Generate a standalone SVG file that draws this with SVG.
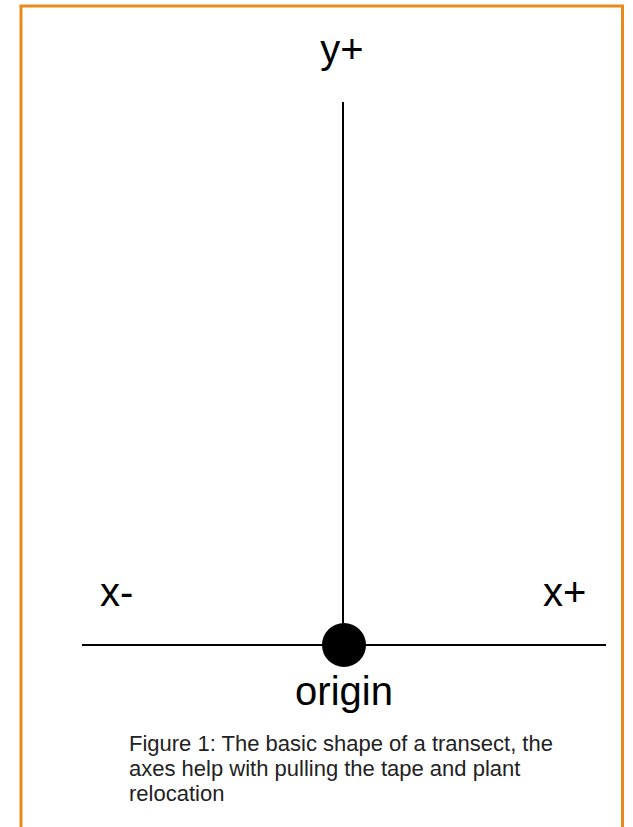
<svg xmlns="http://www.w3.org/2000/svg" width="633" height="827" viewBox="0 0 633 827">
<style>
.lbl{font-family:"Liberation Sans",Arial,sans-serif;font-size:40px;fill:#000}
.cap{font-family:"Liberation Sans",Arial,sans-serif;font-size:22px;fill:#222}
.axis{stroke:#000;stroke-width:2;fill:none}
</style>
<rect x="0" y="0" width="633" height="827" fill="#fff"/>
<path d="M21,830 V6 H622.5 V830" fill="none" stroke="#e8891a" stroke-width="3"/>
<g id="connectors">
<line class="axis" x1="82" y1="645" x2="606" y2="645"/>
<line class="axis" x1="343" y1="102" x2="343" y2="645"/>
</g>
<g id="origin-node">
<circle cx="344" cy="645" r="22" fill="#000"/>
<text class="lbl" x="344" y="705" text-anchor="middle">origin</text>
</g>
<g id="yplus"><text class="lbl" x="342" y="63" text-anchor="middle">y+</text></g>
<g id="xminus"><text class="lbl" x="100" y="606">x-</text></g>
<g id="xplus"><text class="lbl" x="543" y="606">x+</text></g>
<g id="caption">
<text class="cap" x="129" y="751">Figure 1: The basic shape of a transect, the</text>
<text class="cap" x="129" y="776">axes help with pulling the tape and plant</text>
<text class="cap" x="129" y="801">relocation</text>
</g>
</svg>
